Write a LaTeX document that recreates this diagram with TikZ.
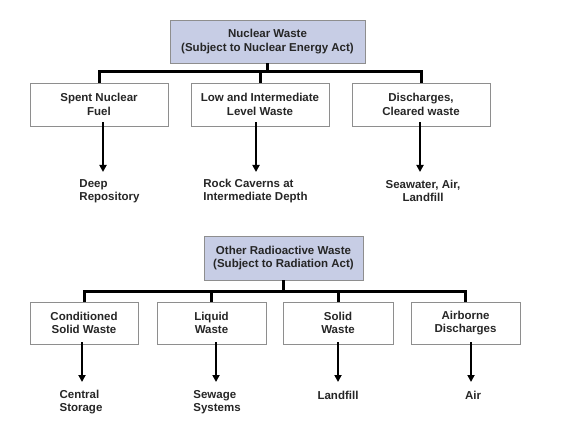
\documentclass[tikz,border=0pt]{standalone}
\usepackage{fontspec}
\setmainfont{Liberation Sans}
\usetikzlibrary{arrows.meta, positioning}
\usepackage{xcolor}
\definecolor{headfill}{HTML}{C7CDE5}
\definecolor{boxline}{HTML}{8E8E8E}

\begin{document}
\begin{tikzpicture}[x=1pt,y=-1pt,font=\bfseries\fontsize{11.5}{13.5}\selectfont,text=black!85]
    \tikzstyle{box}=[draw=boxline,line width=0.8pt,align=center,inner sep=0pt]
    \tikzstyle{head box}=[box,fill=headfill]
    \tikzstyle{leaf}=[align=left,inner sep=0pt]
    \tikzstyle{bar}=[line width=3pt,draw=black]
    \tikzstyle{drop}=[line width=2pt,draw=black,-{Triangle[width=7pt,length=7pt]}]

    \useasboundingbox (0,0) rectangle (567,422);

% upper tree
    \node[head box,minimum width=195pt,minimum height=43pt] (nuc) at (267.5,41.5) {Nuclear Waste\\(Subject to Nuclear Energy Act)};
    \coordinate (bar1) at (0,72);

    \node[box,minimum width=138pt,minimum height=43pt] (spent) at (99,104.5) {Spent Nuclear\\Fuel};
    \node[box,minimum width=138pt,minimum height=43pt] (low) at (260,104.5) {Low and Intermediate\\Level Waste};
    \node[box,minimum width=138pt,minimum height=43pt] (disc) at (421,104.5) {Discharges,\\Cleared waste};

    \node[leaf] (deep) at (109.5,191) {Deep\\Repository};
    \node[leaf] (rock) at (255.5,191) {Rock Caverns at\\Intermediate Depth};
    \node[leaf,align=center] (sea) at (423,191) {Seawater, Air,\\Landfill};

    \draw[bar] (nuc.south) -- (nuc.south |- bar1);
    \draw[bar] (spent.north) -- (spent.north |- bar1) -- (disc.north |- bar1) -- (disc.north);
    \draw[bar] (low.north) -- (low.north |- bar1);

    \draw[drop] ([xshift=4pt,yshift=4pt]spent.south) -- ([xshift=4pt]spent.south |- 0,172);
    \draw[drop] ([xshift=-4pt,yshift=4pt]low.south) -- ([xshift=-4pt]low.south |- 0,172);
    \draw[drop] ([xshift=-1pt,yshift=4pt]disc.south) -- ([xshift=-1pt]disc.south |- 0,172);

% lower tree
    \node[head box,minimum width=159pt,minimum height=44pt] (oth) at (283.5,258) {Other Radioactive Waste\\(Subject to Radiation Act)};
    \coordinate (bar2) at (0,291);

    \node[box,minimum width=108pt,minimum height=42pt] (cond) at (84,323) {Conditioned\\Solid Waste};
    \node[box,minimum width=109pt,minimum height=42pt] (liq) at (211.5,323) {Liquid\\Waste};
    \node[box,minimum width=110pt,minimum height=42pt] (sol) at (338,323) {Solid\\Waste};
    \node[box,minimum width=109pt,minimum height=42pt] (air) at (465.5,323) {Airborne\\Discharges};

    \node[leaf] (cent) at (81,402) {Central\\Storage};
    \node[leaf] (sew) at (217,402) {Sewage\\Systems};
    \node[leaf] (land) at (338,395) {Landfill};
    \node[leaf] (airl) at (473,395) {Air};

    \draw[bar] (oth.south) -- (oth.south |- bar2);
    \draw[bar] (cond.north) -- (cond.north |- bar2) -- (air.north |- bar2) -- (air.north);
    \draw[bar] (liq.north) -- (liq.north |- bar2);
    \draw[bar] (sol.north) -- (sol.north |- bar2);

    \draw[drop] ([xshift=-2pt,yshift=2pt]cond.south) -- ([xshift=-2pt]cond.south |- 0,382);
    \draw[drop] ([xshift=4.5pt,yshift=2pt]liq.south) -- ([xshift=4.5pt]liq.south |- 0,382);
    \draw[drop] ([yshift=2pt]sol.south) -- (sol.south |- 0,382);
    \draw[drop] ([xshift=5.5pt,yshift=2pt]air.south) -- ([xshift=5.5pt]air.south |- 0,382);
\end{tikzpicture}
\end{document}
